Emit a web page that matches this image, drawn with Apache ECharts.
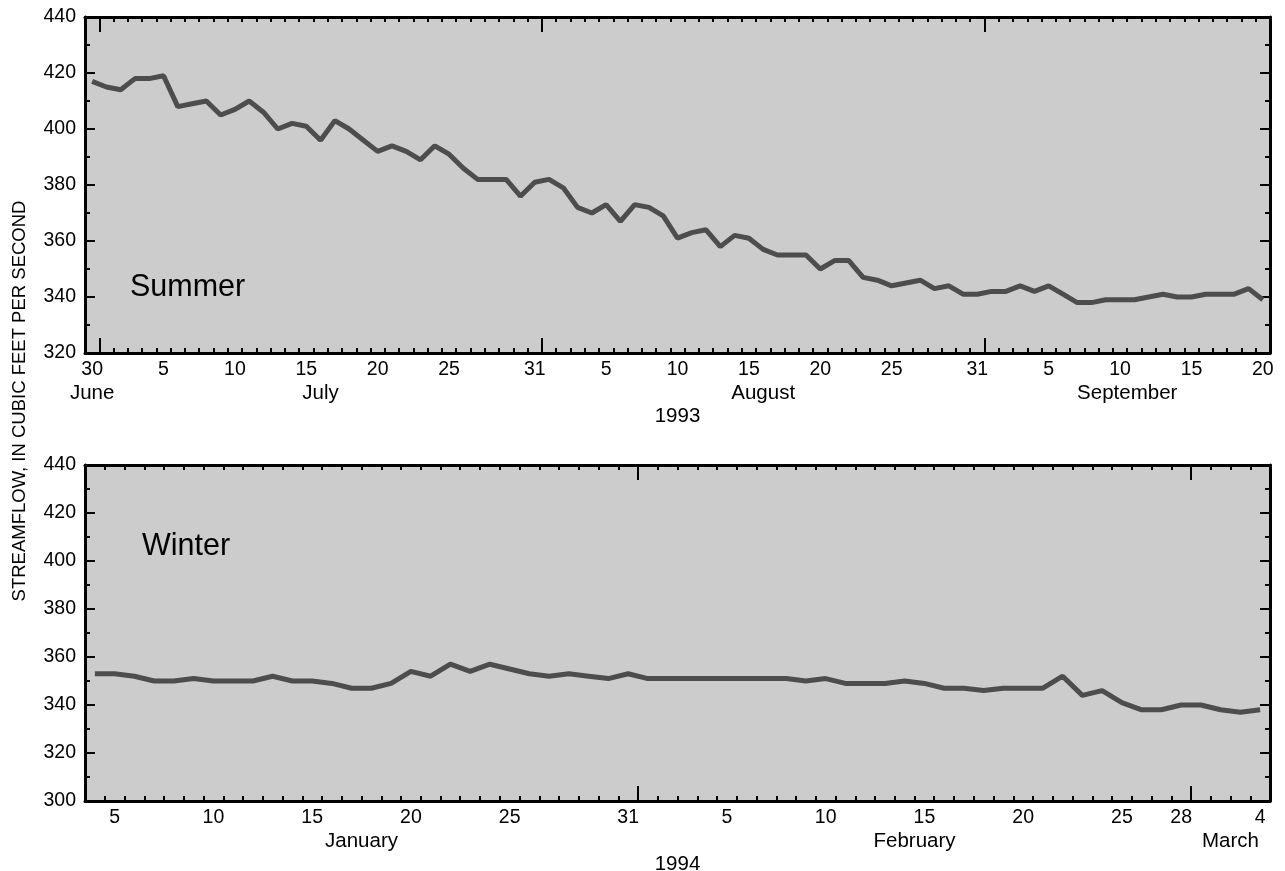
<!DOCTYPE html>
<html><head><meta charset="utf-8">
<script src="https://cdn.jsdelivr.net/npm/echarts@6/dist/echarts.min.js"></script>
<style>html,body{margin:0;padding:0;background:#fff}#c{width:1285px;height:871px}</style>
</head><body><div id="c"></div>
<script>
// ---- data ----
const summerMonths = [['1993-06', 30, 30], ['1993-07', 1, 31], ['1993-08', 1, 31], ['1993-09', 1, 20]];
const winterMonths = [['1994-01', 4, 31], ['1994-02', 1, 28], ['1994-03', 1, 4]];

const summerFlow = [417,
  415,414,418,418,419,408,409,410,405,407,410,406,400,402,401,396,403,400,396,392,394,392,389,394,391,386,382,382,382,376,381,
  382,379,372,370,373,367,373,372,369,361,363,364,358,362,361,357,355,355,355,350,353,353,347,346,344,345,346,343,344,341,341,
  342,342,344,342,344,341,338,338,339,339,339,340,341,340,340,341,341,341,343,339];
const winterFlow = [
  353,353,352,350,350,351,350,350,350,352,350,350,349,347,347,349,354,352,357,354,357,355,353,352,353,352,351,353,
  351,351,351,351,351,351,351,351,350,351,349,349,349,350,349,347,347,346,347,347,347,352,344,346,341,338,338,340,
  340,338,337,338];

const summerDayLabels = ['1993-06-30','1993-07-05','1993-07-10','1993-07-15','1993-07-20','1993-07-25','1993-07-31',
  '1993-08-05','1993-08-10','1993-08-15','1993-08-20','1993-08-25','1993-08-31',
  '1993-09-05','1993-09-10','1993-09-15','1993-09-20'];
const winterDayLabels = ['1994-01-05','1994-01-10','1994-01-15','1994-01-20','1994-01-25','1994-01-31',
  '1994-02-05','1994-02-10','1994-02-15','1994-02-20','1994-02-25','1994-02-28','1994-03-04'];
const summerMonthStarts = ['1993-07-01','1993-08-01','1993-09-01'];
const winterMonthStarts = ['1994-02-01','1994-03-01'];
const summerMonthLabels = {'1993-06-30': 'June', '1993-07-16': 'July', '1993-08-16': 'August', '1993-09-10': 'September'};
const winterMonthLabels = {'1994-01-17': 'January', '1994-02-14': 'February', '1994-03-02': 'March'};
const summerYear = '1993', winterYear = '1994';
const summerYRange = [320, 440], winterYRange = [300, 440];
const yTitle = 'STREAMFLOW, IN CUBIC FEET PER SECOND';

// labels that sit on the boundary between two days (layout)
const halfShifted = {'September': 1, 'January': 1, 'February': 1, 'March': 1};

function buildDates(months) {
  const out = [];
  months.forEach(([ym, a, b]) => { for (let d = a; d <= b; d++) out.push(ym + '-' + String(d).padStart(2, '0')); });
  return out;
}
const summerCats = buildDates(summerMonths);
const winterCats = buildDates(winterMonths);

// ---- layout ----
const FONT = 'Liberation Sans, Arial, Helvetica, sans-serif';
const G = {left: 85, width: 1185, height: 336};
const grids = [{top: 17}, {top: 465}];
const blk = '#000';

function xAxes(gi, cats, dayLabels, monthStarts, monthLabels, year) {
  const daySet = new Set(dayLabels), mSet = new Set(monthStarts);
  const bw = G.width / cats.length;
  const tickStyle = {color: blk, width: 2};
  return [
    {type: 'category', gridIndex: gi, data: cats, position: 'bottom', boundaryGap: true,
      axisLine: {show: true, lineStyle: {color: blk, width: 3}},
      axisTick: {show: true, inside: true, length: 5, interval: 0, lineStyle: tickStyle},
      axisLabel: {show: true, interval: (i, v) => daySet.has(v), formatter: v => String(+v.slice(8)),
        margin: 7, color: blk, fontSize: 19.5, fontFamily: FONT},
      name: year, nameLocation: 'middle', nameGap: 53,
      nameTextStyle: {color: blk, fontSize: 20.5, fontFamily: FONT},
      splitLine: {show: false}},
    {type: 'category', gridIndex: gi, data: cats, position: 'bottom', boundaryGap: true,
      axisLine: {show: false},
      axisTick: {show: true, inside: true, length: 15, interval: (i, v) => mSet.has(v), lineStyle: tickStyle},
      axisLabel: {show: false}, splitLine: {show: false}},
    {type: 'category', gridIndex: gi, data: cats, position: 'bottom', boundaryGap: true,
      axisLine: {show: false}, axisTick: {show: false},
      axisLabel: {show: true, interval: (i, v) => v in monthLabels,
        formatter: v => halfShifted[monthLabels[v]] ? '{h|' + monthLabels[v] + '}' : monthLabels[v],
        margin: 30, color: blk, fontSize: 20.5, fontFamily: FONT,
        rich: {h: {padding: [0, 0, 0, bw], color: blk, fontSize: 20.5, fontFamily: FONT}}},
      splitLine: {show: false}},
    {type: 'category', gridIndex: gi, data: cats, position: 'top', boundaryGap: true,
      axisLine: {show: true, lineStyle: {color: blk, width: 3}},
      axisTick: {show: true, inside: true, length: 5, interval: 0, lineStyle: tickStyle},
      axisLabel: {show: false}, splitLine: {show: false}},
    {type: 'category', gridIndex: gi, data: cats, position: 'top', boundaryGap: true,
      axisLine: {show: false},
      axisTick: {show: true, inside: true, length: 15, interval: (i, v) => mSet.has(v), lineStyle: tickStyle},
      axisLabel: {show: false}, splitLine: {show: false}}
  ];
}
function yAxes(gi, range) {
  const base = {type: 'value', gridIndex: gi, min: range[0], max: range[1], interval: 20,
    axisLine: {show: true, lineStyle: {color: blk, width: 3}},
    axisTick: {show: true, inside: true, length: 10, lineStyle: {color: blk, width: 2}},
    minorTick: {show: true, splitNumber: 2, length: 5, lineStyle: {color: blk, width: 2}},
    splitLine: {show: false}, minorSplitLine: {show: false}};
  return [
    Object.assign({}, base, {position: 'left',
      axisLabel: {show: true, margin: 9, color: blk, fontSize: 19.5, fontFamily: FONT}}),
    Object.assign({}, base, {position: 'right', axisLabel: {show: false}})
  ];
}

const chart = echarts.init(document.getElementById('c'), null, {renderer: 'canvas'});
chart.setOption({
  animation: false,
  backgroundColor: '#fff',
  grid: grids.map(g => ({left: G.left, top: g.top, width: G.width, height: G.height,
    show: true, backgroundColor: '#cccccc', borderWidth: 0, containLabel: false, outerBoundsMode: 'none'})),
  xAxis: [].concat(
    xAxes(0, summerCats, summerDayLabels, summerMonthStarts, summerMonthLabels, summerYear),
    xAxes(1, winterCats, winterDayLabels, winterMonthStarts, winterMonthLabels, winterYear)),
  yAxis: [].concat(yAxes(0, summerYRange), yAxes(1, winterYRange)),
  series: [
    {type: 'line', xAxisIndex: 0, yAxisIndex: 0, data: summerFlow, symbol: 'none', showSymbol: false,
      lineStyle: {color: '#4d4d4d', width: 5}, z: 1},
    {type: 'line', xAxisIndex: 5, yAxisIndex: 2, data: winterFlow, symbol: 'none', showSymbol: false,
      lineStyle: {color: '#4d4d4d', width: 5}, z: 1}
  ],
  graphic: [
    {type: 'text', x: 130, y: 288, z: 10, style: {text: 'Summer', fontSize: 30.5, fontFamily: FONT, fill: blk, align: 'left', verticalAlign: 'middle'}},
    {type: 'text', x: 142, y: 547, z: 10, style: {text: 'Winter', fontSize: 30.5, fontFamily: FONT, fill: blk, align: 'left', verticalAlign: 'middle'}},
    {type: 'text', x: 20, y: 401, rotation: Math.PI / 2, style: {text: yTitle, fontSize: 18.5, fontFamily: FONT, fill: blk, align: 'center', verticalAlign: 'middle'}}
  ]
});
</script>
</body></html>
